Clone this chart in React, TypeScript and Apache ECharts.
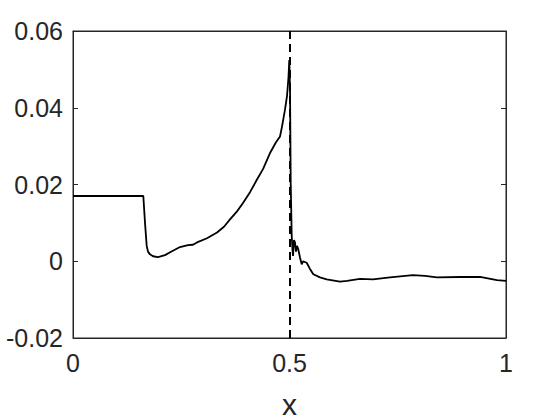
import React, { useEffect, useRef } from "react";
import * as echarts from "echarts";

const xValues = [
  0, 0.1624, 0.1663, 0.1702, 0.1732, 0.1778, 0.1848, 0.1963, 0.2125, 0.2286,
  0.2471, 0.2656, 0.2771, 0.2864, 0.3095, 0.3326, 0.3487, 0.3626, 0.3788, 0.3926,
  0.4088, 0.4249, 0.4388, 0.455, 0.4688, 0.4781, 0.4827, 0.4896, 0.4942, 0.4977,
  0.4995, 0.5012, 0.5028, 0.5051, 0.5069, 0.5081, 0.5104, 0.5127, 0.515, 0.5173,
  0.5203, 0.5242, 0.5282, 0.5312, 0.5397, 0.5473, 0.555, 0.5704, 0.5859, 0.6166,
  0.6328, 0.6628, 0.6928, 0.7321, 0.7852, 0.8129, 0.8406, 0.8938, 0.94, 0.9792, 1.0,
];
const yValues = [
  0.017, 0.017, 0.010, 0.0040, 0.0025, 0.0018, 0.0013, 0.0011, 0.0016, 0.0026,
  0.0037, 0.0042, 0.0043, 0.0049, 0.0060, 0.0075, 0.0090, 0.0109, 0.0130, 0.0152,
  0.0180, 0.0213, 0.0240, 0.0282, 0.0310, 0.0325, 0.0351, 0.0395, 0.0430, 0.0480,
  0.0524, 0.0450, 0.0204, 0.0066, 0.0030, 0.0014, 0.0055, 0.0049, 0.0025, 0.0040,
  0.0031, 0.0010, -0.0008, 0.0000, -0.0004, -0.0020, -0.0034, -0.0042, -0.0047, -0.0053,
  -0.0051, -0.0046, -0.0047, -0.0042, -0.0036, -0.0038, -0.0042, -0.0041, -0.0041, -0.0049, -0.0051,
];
const xTicks = [0, 0.5, 1];
const yTicks = [-0.02, 0, 0.02, 0.04, 0.06];
const markerX = 0.5;

const FONT = "'Liberation Sans', Arial, Helvetica, sans-serif";
const TEXT = "#262626";

export default function App() {
  const ref = useRef<HTMLDivElement>(null);
  useEffect(() => {
    if (!ref.current) return;
    const chart = echarts.init(ref.current, undefined, { renderer: "svg" });
    const fmtY = (v: number) => {
      const hit = yTicks.find((t) => Math.abs(t - v) < 1e-9);
      return hit === undefined ? "" : hit === 0 ? "0" : hit.toFixed(2);
    };
    const fmtX = (v: number) => {
      const hit = xTicks.find((t) => Math.abs(t - v) < 1e-9);
      return hit === undefined ? "" : String(hit);
    };
    const tickStyle = { show: true, inside: true, length: 5, lineStyle: { color: TEXT, width: 1 } };
    chart.setOption({
      animation: false,
      backgroundColor: "#ffffff",
      grid: {
        left: 73,
        right: 54,
        top: 31,
        bottom: 82,
        containLabel: false,
        outerBoundsMode: "none",
        show: true,
        borderColor: TEXT,
        borderWidth: 1,
        backgroundColor: "transparent",
      },
      xAxis: [
        {
          type: "value",
          min: 0,
          max: 1,
          interval: 0.5,
          position: "bottom",
          axisLine: { show: true, onZero: false, lineStyle: { color: TEXT, width: 1 } },
          axisTick: tickStyle,
          splitLine: { show: false },
          axisLabel: { color: TEXT, fontSize: 25, fontFamily: FONT, margin: 12, formatter: fmtX },
          name: "x",
          nameLocation: "middle",
          nameGap: 51,
          nameTextStyle: { color: TEXT, fontSize: 30, fontFamily: FONT, lineHeight: 30 },
        },
        {
          type: "value",
          min: 0,
          max: 1,
          interval: 0.5,
          position: "top",
          axisLine: { show: true, onZero: false, lineStyle: { color: TEXT, width: 1 } },
          axisTick: tickStyle,
          splitLine: { show: false },
          axisLabel: { show: false },
        },
      ],
      yAxis: [
        {
          type: "value",
          min: -0.02,
          max: 0.06,
          interval: 0.02,
          position: "left",
          axisLine: { show: true, onZero: false, lineStyle: { color: TEXT, width: 1 } },
          axisTick: tickStyle,
          splitLine: { show: false },
          axisLabel: { color: TEXT, fontSize: 25, fontFamily: FONT, margin: 10, formatter: fmtY },
        },
        {
          type: "value",
          min: -0.02,
          max: 0.06,
          interval: 0.02,
          position: "right",
          axisLine: { show: true, onZero: false, lineStyle: { color: TEXT, width: 1 } },
          axisTick: tickStyle,
          splitLine: { show: false },
          axisLabel: { show: false },
        },
      ],
      series: [
        {
          type: "line",
          xAxisIndex: 0,
          yAxisIndex: 0,
          data: xValues.map((x, i) => [x, yValues[i]]),
          showSymbol: false,
          symbol: "none",
          lineStyle: { color: "#000000", width: 1.8 },
          markLine: {
            silent: true,
            symbol: "none",
            label: { show: false },
            lineStyle: { color: "#000000", width: 2, type: [8, 5] },
            data: [{ xAxis: markerX }],
          },
        },
      ],
    });
    return () => chart.dispose();
  }, []);
  return <div ref={ref} style={{ width: 560, height: 420, position: "absolute", left: 0, top: 0 }} />;
}
